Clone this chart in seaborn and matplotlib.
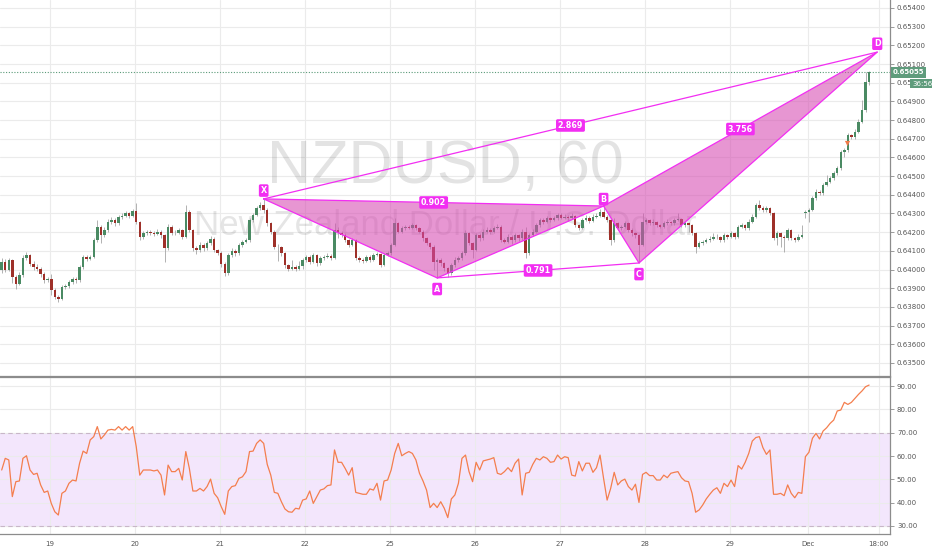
import numpy as np
import matplotlib
matplotlib.use("Agg")
import matplotlib.pyplot as plt
import matplotlib.transforms as mtransforms
from matplotlib.patches import Polygon
import seaborn as sns

# ---- hourly NZDUSD candles (open = previous close, except after the weekend) ----
FIRST_OPEN = 0.63996
GAP_OPENS = {227: 0.64301}

CLOSES = [
    0.64041, 0.63999, 0.64050, 0.63960, 0.63925, 0.63970, 0.64064, 0.64077, 0.64032, 0.64014,
    0.64005, 0.63975, 0.63943, 0.63950, 0.63890, 0.63854, 0.63840, 0.63907, 0.63911, 0.63934,
    0.63948, 0.63943, 0.64014, 0.64068, 0.64059, 0.64068, 0.64158, 0.64229, 0.64184, 0.64211,
    0.64256, 0.64265, 0.64247, 0.64279, 0.64288, 0.64300, 0.64286, 0.64315, 0.64256, 0.64172,
    0.64193, 0.64202, 0.64193, 0.64190, 0.64202, 0.64184, 0.64113, 0.64229, 0.64197, 0.64195,
    0.64211, 0.64175, 0.64309, 0.64211, 0.64113, 0.64104, 0.64131, 0.64113, 0.64140, 0.64166,
    0.64104, 0.64090, 0.64032, 0.63979, 0.64077, 0.64101, 0.64086, 0.64131, 0.64149, 0.64158,
    0.64265, 0.64292, 0.64327, 0.64345, 0.64318, 0.64247, 0.64202, 0.64122, 0.64118, 0.64086,
    0.64023, 0.64005, 0.64014, 0.64005, 0.64018, 0.64051, 0.64069, 0.64042, 0.64078, 0.64033,
    0.64060, 0.64069, 0.64075, 0.64060, 0.64212, 0.64194, 0.64185, 0.64158, 0.64131, 0.64158,
    0.64060, 0.64051, 0.64047, 0.64069, 0.64051, 0.64078, 0.64082, 0.64024, 0.64078, 0.64087,
    0.64131, 0.64247, 0.64203, 0.64220, 0.64229, 0.64224, 0.64238, 0.64220, 0.64203, 0.64167,
    0.64140, 0.64122, 0.64042, 0.64051, 0.64033, 0.64006, 0.63980, 0.64024, 0.64051, 0.64060,
    0.64087, 0.64194, 0.64140, 0.64104, 0.64185, 0.64167, 0.64203, 0.64212, 0.64203, 0.64221,
    0.64230, 0.64158, 0.64150, 0.64176, 0.64158, 0.64185, 0.64167, 0.64203, 0.64087, 0.64185,
    0.64203, 0.64238, 0.64265, 0.64256, 0.64274, 0.64265, 0.64274, 0.64292, 0.64278, 0.64283,
    0.64274, 0.64287, 0.64238, 0.64221, 0.64265, 0.64278, 0.64260, 0.64283, 0.64287, 0.64310,
    0.64283, 0.64265, 0.64158, 0.64247, 0.64221, 0.64229, 0.64247, 0.64211, 0.64193, 0.64184,
    0.64131, 0.64256, 0.64265, 0.64247, 0.64256, 0.64238, 0.64229, 0.64247, 0.64256, 0.64247,
    0.64265, 0.64270, 0.64238, 0.64247, 0.64238, 0.64193, 0.64122, 0.64140, 0.64149, 0.64158,
    0.64166, 0.64175, 0.64175, 0.64158, 0.64184, 0.64175, 0.64193, 0.64175, 0.64229, 0.64238,
    0.64220, 0.64256, 0.64283, 0.64345, 0.64328, 0.64319, 0.64328, 0.64301, 0.64167, 0.64194,
    0.64176, 0.64167, 0.64212, 0.64167, 0.64160, 0.64176, 0.64185, 0.64310, 0.64319, 0.64381,
    0.64417, 0.64408, 0.64452, 0.64470, 0.64488, 0.64515, 0.64542, 0.64631, 0.64640, 0.64720,
    0.64711, 0.64738, 0.64792, 0.64854, 0.65006, 0.65055,
]

HIGHS = [
    0.64060, 0.64055, 0.64062, 0.64058, 0.63972, 0.63985, 0.64080, 0.64095, 0.64085, 0.64045,
    0.64030, 0.64012, 0.63985, 0.63962, 0.63975, 0.63900, 0.63862, 0.63915, 0.63925, 0.63945,
    0.63960, 0.63958, 0.64025, 0.64080, 0.64078, 0.64080, 0.64170, 0.64265, 0.64240, 0.64225,
    0.64270, 0.64280, 0.64275, 0.64290, 0.64300, 0.64312, 0.64310, 0.64325, 0.64354, 0.64262,
    0.64205, 0.64212, 0.64210, 0.64205, 0.64215, 0.64210, 0.64190, 0.64245, 0.64238, 0.64210,
    0.64222, 0.64218, 0.64345, 0.64318, 0.64218, 0.64125, 0.64145, 0.64140, 0.64155, 0.64180,
    0.64175, 0.64112, 0.64098, 0.64040, 0.64090, 0.64115, 0.64110, 0.64142, 0.64160, 0.64170,
    0.64278, 0.64305, 0.64340, 0.64360, 0.64378, 0.64330, 0.64255, 0.64210, 0.64135, 0.64125,
    0.64092, 0.64030, 0.64050, 0.64025, 0.64045, 0.64062, 0.64080, 0.64078, 0.64090, 0.64085,
    0.64072, 0.64080, 0.64090, 0.64085, 0.64247, 0.64225, 0.64205, 0.64195, 0.64165, 0.64170,
    0.64165, 0.64072, 0.64062, 0.64080, 0.64078, 0.64090, 0.64095, 0.64090, 0.64090, 0.64098,
    0.64142, 0.64274, 0.64255, 0.64232, 0.64240, 0.64238, 0.64250, 0.64245, 0.64228, 0.64210,
    0.64175, 0.64148, 0.64130, 0.64062, 0.64060, 0.64040, 0.64015, 0.64035, 0.64065, 0.64072,
    0.64100, 0.64212, 0.64200, 0.64150, 0.64195, 0.64195, 0.64215, 0.64225, 0.64220, 0.64232,
    0.64245, 0.64240, 0.64168, 0.64188, 0.64185, 0.64195, 0.64192, 0.64215, 0.64230, 0.64195,
    0.64215, 0.64250, 0.64278, 0.64275, 0.64285, 0.64282, 0.64288, 0.64305, 0.64300, 0.64295,
    0.64292, 0.64300, 0.64292, 0.64245, 0.64278, 0.64290, 0.64285, 0.64295, 0.64300, 0.64322,
    0.64340, 0.64292, 0.64270, 0.64274, 0.64255, 0.64240, 0.64258, 0.64252, 0.64220, 0.64202,
    0.64190, 0.64300, 0.64278, 0.64272, 0.64268, 0.64262, 0.64245, 0.64258, 0.64268, 0.64262,
    0.64278, 0.64300, 0.64275, 0.64258, 0.64255, 0.64245, 0.64200, 0.64152, 0.64160, 0.64170,
    0.64180, 0.64195, 0.64188, 0.64182, 0.64195, 0.64192, 0.64205, 0.64200, 0.64240, 0.64250,
    0.64245, 0.64268, 0.64295, 0.64358, 0.64372, 0.64338, 0.64340, 0.64335, 0.64308, 0.64205,
    0.64200, 0.64185, 0.64222, 0.64218, 0.64175, 0.64188, 0.64238, 0.64320, 0.64330, 0.64392,
    0.64430, 0.64426, 0.64462, 0.64506, 0.64500, 0.64528, 0.64555, 0.64642, 0.64652, 0.64730,
    0.64728, 0.64750, 0.64805, 0.64908, 0.65059, 0.65065,
]

LOWS = [
    0.63980, 0.63985, 0.63990, 0.63930, 0.63895, 0.63915, 0.63962, 0.64050, 0.64020, 0.64000,
    0.63990, 0.63960, 0.63930, 0.63932, 0.63863, 0.63840, 0.63827, 0.63835, 0.63895, 0.63900,
    0.63925, 0.63930, 0.63935, 0.64005, 0.64045, 0.64050, 0.64060, 0.64150, 0.64140, 0.64175,
    0.64200, 0.64245, 0.64235, 0.64240, 0.64270, 0.64280, 0.64275, 0.64280, 0.64245, 0.64160,
    0.64165, 0.64185, 0.64185, 0.64180, 0.64185, 0.64170, 0.64041, 0.64105, 0.64185, 0.64185,
    0.64190, 0.64165, 0.64170, 0.64200, 0.64100, 0.64085, 0.64095, 0.64100, 0.64105, 0.64130,
    0.64095, 0.64078, 0.64015, 0.63965, 0.63970, 0.64068, 0.64075, 0.64078, 0.64122, 0.64140,
    0.64150, 0.64255, 0.64285, 0.64318, 0.64305, 0.64235, 0.64190, 0.64110, 0.64045, 0.64072,
    0.64010, 0.63990, 0.63995, 0.63990, 0.63995, 0.64005, 0.64040, 0.64030, 0.64035, 0.64020,
    0.64025, 0.64050, 0.64060, 0.64050, 0.64055, 0.64170, 0.64175, 0.64145, 0.64120, 0.64125,
    0.64050, 0.64040, 0.64035, 0.64040, 0.64040, 0.64045, 0.64070, 0.64015, 0.64018, 0.64070,
    0.64080, 0.64125, 0.64195, 0.64195, 0.64212, 0.64215, 0.64218, 0.64212, 0.64195, 0.64155,
    0.64130, 0.64110, 0.64000, 0.63955, 0.64020, 0.63990, 0.63962, 0.63972, 0.64015, 0.64040,
    0.64050, 0.64080, 0.64130, 0.64060, 0.64098, 0.64155, 0.64160, 0.64195, 0.64192, 0.64195,
    0.64215, 0.64148, 0.64140, 0.64142, 0.64135, 0.64150, 0.64155, 0.64160, 0.64060, 0.64080,
    0.64178, 0.64195, 0.64230, 0.64245, 0.64248, 0.64255, 0.64258, 0.64265, 0.64268, 0.64270,
    0.64262, 0.64268, 0.64228, 0.64210, 0.64215, 0.64258, 0.64250, 0.64252, 0.64275, 0.64280,
    0.64275, 0.64255, 0.64131, 0.64150, 0.64210, 0.64212, 0.64220, 0.64200, 0.64182, 0.64170,
    0.64035, 0.64125, 0.64245, 0.64238, 0.64240, 0.64228, 0.64220, 0.64222, 0.64240, 0.64238,
    0.64240, 0.64258, 0.64228, 0.64230, 0.64203, 0.64185, 0.64086, 0.64115, 0.64132, 0.64140,
    0.64150, 0.64160, 0.64165, 0.64150, 0.64150, 0.64165, 0.64168, 0.64165, 0.64170, 0.64220,
    0.64210, 0.64212, 0.64250, 0.64278, 0.64318, 0.64308, 0.64310, 0.64292, 0.64158, 0.64131,
    0.64122, 0.64096, 0.64160, 0.64158, 0.64150, 0.64152, 0.64168, 0.64274, 0.64256, 0.64312,
    0.64372, 0.64398, 0.64400, 0.64445, 0.64462, 0.64480, 0.64508, 0.64535, 0.64600, 0.64630,
    0.64700, 0.64700, 0.64730, 0.64785, 0.64845, 0.64990,
]

# RSI(14), one value per candle
RSI = [
    54.0, 59.0, 58.3, 42.6, 49.0, 49.3, 59.0, 60.1, 54.0, 52.1,
    52.6, 47.6, 44.4, 45.0, 39.7, 36.1, 34.7, 44.0, 45.0, 48.3,
    49.7, 49.3, 56.9, 62.1, 61.1, 66.9, 68.3, 72.6, 67.3, 69.0,
    71.1, 71.4, 71.1, 72.6, 71.1, 72.6, 71.1, 72.6, 64.0, 51.8,
    54.0, 54.0, 54.0, 53.6, 54.0, 51.8, 43.3, 56.1, 53.3, 53.3,
    54.7, 49.7, 61.9, 54.7, 45.0, 45.0, 46.1, 45.0, 46.9, 50.1,
    44.0, 42.1, 38.3, 35.0, 45.0, 46.9, 47.3, 50.4, 51.1, 53.3,
    61.9, 62.1, 65.4, 66.9, 65.4, 56.4, 51.8, 44.4, 44.0, 40.4,
    37.3, 36.1, 35.9, 37.6, 37.3, 41.1, 41.6, 45.0, 39.7, 42.6,
    45.4, 45.9, 47.3, 47.6, 62.6, 57.3, 57.3, 54.7, 51.8, 55.0,
    44.4, 44.0, 43.6, 43.6, 45.9, 45.4, 48.3, 41.1, 49.3, 49.7,
    54.0, 61.1, 65.4, 60.1, 61.1, 61.9, 61.1, 58.3, 52.6, 49.3,
    45.4, 37.9, 39.7, 37.9, 40.4, 37.6, 33.6, 41.6, 43.3, 48.3,
    59.0, 60.4, 53.3, 49.0, 57.3, 54.0, 57.9, 58.3, 58.7, 59.3,
    52.6, 52.1, 53.3, 55.0, 53.3, 56.9, 58.7, 43.3, 52.6, 53.0,
    56.4, 59.0, 58.3, 59.7, 59.0, 57.3, 57.6, 60.4, 58.7, 59.7,
    59.3, 51.8, 51.4, 57.6, 53.6, 56.9, 56.9, 53.0, 55.0, 60.4,
    50.4, 41.1, 46.1, 53.0, 47.6, 49.3, 50.1, 46.9, 45.4, 47.9,
    40.1, 52.1, 53.0, 51.6, 51.6, 49.7, 49.7, 51.8, 50.7, 52.6,
    53.0, 53.3, 50.7, 49.3, 49.0, 44.0, 35.9, 36.9, 39.0, 41.6,
    43.6, 45.4, 46.4, 44.0, 48.3, 46.9, 49.7, 46.9, 55.9, 54.4,
    57.3, 61.1, 66.4, 67.9, 68.3, 63.6, 60.7, 62.6, 43.6, 43.6,
    44.0, 43.0, 47.6, 44.0, 42.1, 44.4, 44.0, 59.7, 61.6, 67.6,
    69.7, 67.3, 70.7, 72.1, 74.0, 75.4, 79.3, 79.7, 83.0, 82.1,
    83.0, 84.7, 86.4, 87.9, 89.7, 90.4,
]

DAY_TICKS = [13.7, 37.7, 61.7, 85.7, 109.7, 133.7, 157.7, 181.7, 205.7, 227.7, 247.7]
DAY_LABELS = ["19", "20", "21", "22", "25", "26", "27", "28", "29", "Dec", "18:00"]

# harmonic XABCD drawing
PATTERN_NAMES = ["X", "A", "B", "C", "D"]
PATTERN_IDX = [74, 123, 170, 180, 247.3]
PATTERN_PRICE = [0.64378, 0.63955, 0.64340, 0.64035, 0.65164]
RATIO_LINKS = [("X", "B", "0.902"), ("A", "C", "0.791"), ("X", "D", "2.869"), ("B", "D", "3.756")]

SIGNAL_IDX = [238.8]
SIGNAL_PRICE = [0.64677]

LAST_PRICE = 0.65055
COUNTDOWN = "36:56"

UP = "#4a8a63"
DOWN = "#9e3029"
MAGENTA = "#f22ef2"
GRID = "#ebebeb"
AXIS = "#8c8c8c"
TEXT = "#555555"

sns.set_style("white")
plt.rcParams["font.family"] = ["DejaVu Sans"]

fig = plt.figure(figsize=(9.32, 5.5), dpi=100)
ax = fig.add_axes([0, 174 / 550, 890 / 932, 376 / 550])
ax_rsi = fig.add_axes([0, 16 / 550, 890 / 932, 157 / 550])

idx = np.arange(len(CLOSES))
closes = np.array(CLOSES)
opens = np.array([FIRST_OPEN] + CLOSES[:-1])
for k, v in GAP_OPENS.items():
    opens[k] = v
up = closes >= opens

# ---- price panel ----
ax.vlines(idx, LOWS, HIGHS, color="#a5a5a5", lw=0.6, zorder=2)
body = np.maximum(np.abs(closes - opens), 0.000012)
ax.bar(idx, body, bottom=np.minimum(opens, closes), width=0.7,
       color=np.where(up, UP, DOWN), linewidth=0, zorder=3)

ax.text(0.5, 0.513, "NZDUSD, 60", transform=ax.transAxes, ha="center", va="baseline",
        fontsize=44, family="Liberation Sans", color="#000000", alpha=0.11, zorder=1)
ax.text(0.5, 0.375, "New Zealand Dollar / U.S. Dollar", transform=ax.transAxes,
        ha="center", va="baseline", fontsize=25, family="Liberation Sans",
        color="#000000", alpha=0.10, zorder=1)

pts = dict(zip(PATTERN_NAMES, zip(PATTERN_IDX, PATTERN_PRICE)))
for tri in [("X", "A", "B"), ("B", "C", "D")]:
    ax.add_patch(Polygon([pts[n] for n in tri], closed=True, facecolor="#d64bb2",
                         alpha=0.58, edgecolor="none", zorder=4))
    xs = [pts[n][0] for n in tri + (tri[0],)]
    ys = [pts[n][1] for n in tri + (tri[0],)]
    ax.plot(xs, ys, color=MAGENTA, lw=0.9, zorder=5)
for a, b in [("X", "D"), ("A", "C")]:
    ax.plot([pts[a][0], pts[b][0]], [pts[a][1], pts[b][1]], color=MAGENTA, lw=0.9, zorder=5)

box = dict(boxstyle="round,pad=0.22,rounding_size=0.2", fc=MAGENTA, ec="none")
for a, b, txt in RATIO_LINKS:
    mx = (pts[a][0] + pts[b][0]) / 2
    my = (pts[a][1] + pts[b][1]) / 2
    ax.text(mx, my, txt, ha="center", va="center", fontsize=5.8, color="white",
            fontweight="bold", bbox=box, zorder=6)

for name, dy in zip(PATTERN_NAMES, [6, -8, 5, -8, 6]):
    ax.annotate(name, pts[name], xytext=(0, dy), textcoords="offset points",
                ha="center", va="center", fontsize=5.8, color="white",
                fontweight="bold", bbox=box, zorder=6)

ax.scatter(SIGNAL_IDX, SIGNAL_PRICE, marker="v", s=14, color="#f07a4a", zorder=6, linewidths=0)

ax.axhline(LAST_PRICE, color="#5a9a78", ls=(0, (1, 1.5)), lw=0.8, zorder=2)

ax.set_xlim(-0.48, 250.9)
ax.set_ylim(0.634300, 0.654428)
ax.yaxis.tick_right()
ax.set_yticks(np.round(np.arange(0.635, 0.6545, 0.001), 3))
ax.set_yticklabels([f"{v:.5f}" for v in np.round(np.arange(0.635, 0.6545, 0.001), 3)])
ax.set_xticks(DAY_TICKS)
ax.tick_params(axis="x", length=0, labelbottom=False)
ax.tick_params(axis="y", length=3, width=0.6, color=AXIS, labelsize=5, labelcolor=TEXT, pad=2)
ax.grid(True, color=GRID, lw=0.8)
ax.set_axisbelow(True)

trans = mtransforms.blended_transform_factory(ax.transAxes, ax.transData)
ax.text(1.003, LAST_PRICE, f"{LAST_PRICE:.5f}", transform=trans, ha="left", va="center",
        fontsize=5, color="white", fontweight="bold",
        bbox=dict(boxstyle="square,pad=0.3", fc="#5f9c7c", ec="none"), zorder=7, clip_on=False)
ax.annotate(COUNTDOWN, (1.0, LAST_PRICE), xycoords=trans, xytext=(16, -8),
            textcoords="offset points", ha="left", va="center", fontsize=5, color="white",
            bbox=dict(boxstyle="square,pad=0.25", fc="#5f9c7c", ec="none"),
            zorder=7, annotation_clip=False)

# ---- RSI panel ----
ax_rsi.axhspan(30, 70, color="#f3e6fc", zorder=0, lw=0)
for lvl in (30, 70):
    ax_rsi.axhline(lvl, color="#c8b6c8", ls=(0, (4, 3)), lw=0.8, zorder=1)
sns.lineplot(x=idx, y=RSI, ax=ax_rsi, color="#f47e4e", lw=0.9, zorder=3)

ax_rsi.set_xlim(-0.48, 250.9)
ax_rsi.set_ylim(26.57, 93.86)
ax_rsi.yaxis.tick_right()
ax_rsi.set_yticks([30, 40, 50, 60, 70, 80, 90])
ax_rsi.set_yticklabels([f"{v:.2f}" for v in [30, 40, 50, 60, 70, 80, 90]])
ax_rsi.set_xticks(DAY_TICKS)
ax_rsi.set_xticklabels(DAY_LABELS)
ax_rsi.tick_params(axis="both", length=3, width=0.6, color=AXIS, labelsize=5,
                   labelcolor=TEXT, pad=2)
ax_rsi.grid(True, color=GRID, lw=0.8)
ax_rsi.set_axisbelow(True)

for a in (ax, ax_rsi):
    a.spines["left"].set_visible(False)
    for s in ("right", "bottom", "top"):
        a.spines[s].set_color(AXIS)
        a.spines[s].set_linewidth(0.9)
ax.spines["top"].set_visible(False)
ax_rsi.set_xlabel("")
ax_rsi.set_ylabel("")

fig.savefig("out.png", dpi=100)
